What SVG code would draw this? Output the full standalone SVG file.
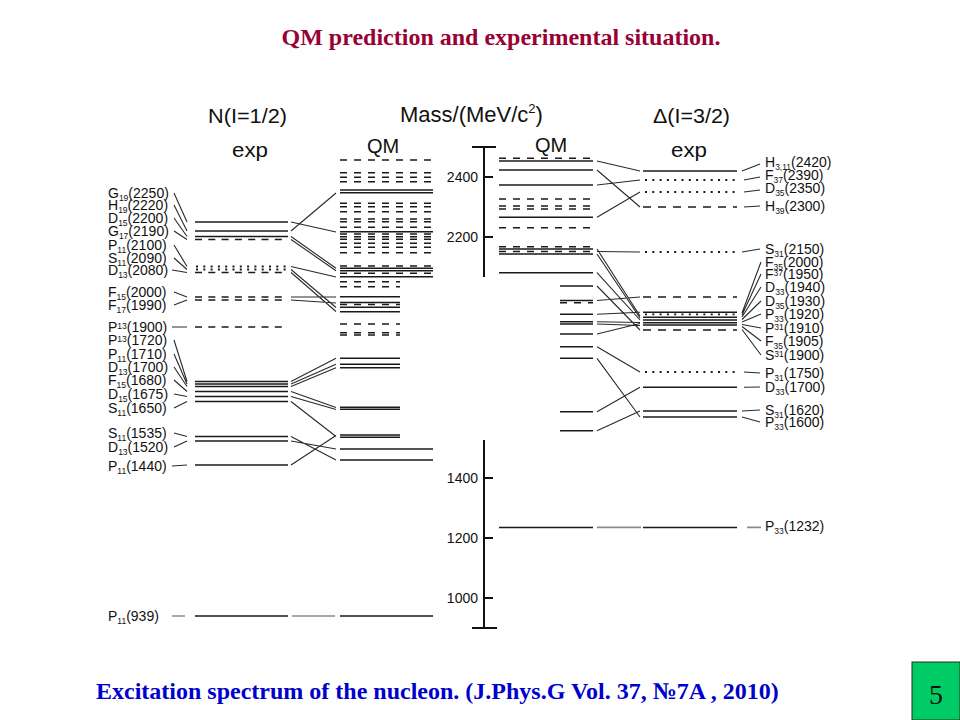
<svg xmlns="http://www.w3.org/2000/svg" width="960" height="720" viewBox="0 0 960 720">
<style>
text{font-family:"Liberation Sans",Arial,sans-serif;fill:#111}
.lb{font-size:14px}
.sb{font-size:8.5px}
.hd{font-size:20px}
.tk{font-size:14px;text-anchor:end}
.ttl{font-family:"Liberation Serif","Times New Roman",serif;font-weight:bold;font-size:24px}
.lv{stroke:#1a1a1a;stroke-width:1.5;fill:none}
.dl{stroke-dasharray:7 6.3}
.dq{stroke-dasharray:7 7}
.dr{stroke-dasharray:8 7}
.ot{stroke-dasharray:2 5.3;stroke-width:1.8}
.cn{stroke:#2a2a2a;stroke-width:1.1;fill:none}
.gr{stroke:#8a8a8a;stroke-width:1.6;fill:none}
.ax{stroke:#111;stroke-width:2;fill:none}
</style>
<rect width="960" height="720" fill="#fff"/>
<text class="ttl" x="501" y="45" text-anchor="middle" style="fill:#990033">QM prediction and experimental situation.</text>

<g id="headers">
<text class="hd" x="208" y="123" textLength="79" lengthAdjust="spacingAndGlyphs">N(I=1/2)</text>
<text class="hd" x="232" y="157" textLength="36" lengthAdjust="spacingAndGlyphs">exp</text>
<text class="hd" x="400" y="122" style="font-size:22px">Mass/(MeV/c<tspan font-size="13" dy="-9">2</tspan><tspan dy="9">)</tspan></text>
<text class="hd" x="383" y="153" text-anchor="middle">QM</text>
<text class="hd" x="551" y="152" text-anchor="middle">QM</text>
<text class="hd" x="653" y="123" textLength="77" lengthAdjust="spacingAndGlyphs">Δ(I=3/2)</text>
<text class="hd" x="671" y="157" textLength="36" lengthAdjust="spacingAndGlyphs">exp</text>
</g>

<g id="axis">
<path class="ax" d="M484 147V277M484 440V628M472 147H496M472 628H497M484 177H493M484 237H493M484 478H493M484 538H493M484 598H493"/>
<text class="tk" x="478" y="182">2400</text>
<text class="tk" x="478" y="242">2200</text>
<text class="tk" x="478" y="483">1400</text>
<text class="tk" x="478" y="543">1200</text>
<text class="tk" x="478" y="603">1000</text>
</g>

<g id="n-exp">
<path class="lv" d="M195 222H288M195 231H288M195 236.5H288M195 381.5H288M195 384H288M195 386.5H288M195 391.5H288M195 396.5H288M195 401.5H288M195 436.5H288M195 441H288M195 465H288M195 616H288"/>
<path class="lv dl" d="M195 239.5H288M195 272.5H288M195 297H288M195 300H288M195 327H288"/>
<path class="lv ot" d="M196 266.5H288M196 269.5H288"/>
</g>

<g id="n-qm">
<path class="lv" d="M340 190H433M340 192.7H433M340 231.7H433M340 268.3H433M340 270.7H433M340 276.7H433M340 449H433M340 460H433M340 616H433M340 296.7H400M340 302.5H400M340 307.3H400M340 311.7H400M340 358.3H400M340 364.3H400M340 367.7H400M340 407.3H400M340 409.3H400M340 435H400M340 437.3H400"/>
<path class="lv dq" d="M340 160H433M340 172.7H433M340 177.3H433M340 181.7H433M340 203.3H433M340 206.7H433M340 211.7H433M340 219H433M340 221.7H433M340 227.3H433M340 234H433M340 236.7H433M340 239.3H433M340 243.3H433M340 247.3H433M340 252.7H433M340 266H433M340 273.3H433M340 281.7H400M340 286.7H400M340 304.5H400M340 324H400M340 332.7H400M340 335H400"/>
</g>

<g id="d-qm">
<path class="lv" d="M499 161H593M499 170H593M499 185H593M499 217.3H593M499 249H593M499 254H593M499 272.7H593M499 527.4H593M560 286H593M560 300.5H593M560 314.3H593M560 321.7H593M560 324H593M560 334H593M560 346.7H593M560 358.3H593M560 411.7H593M560 430.7H593"/>
<path class="lv dq" d="M499 158.3H593M499 199H593M499 206H593M499 209H593M499 227.7H593M499 246.7H593M499 251.5H593M560 302.7H593"/>
</g>

<g id="d-exp">
<path class="lv" d="M643 171H737M643 312.3H737M643 317.3H737M643 320H737M643 322.7H737M643 325H737M643 387.3H737M643 411H737M643 417H737M643 527.4H737"/>
<path class="lv dr" d="M643 207H737M643 297H737M643 330H737"/>
<path class="lv ot" d="M645 180H737M645 192H737M645 252H737M645 314.3H737M645 372H737"/>
</g>

<g id="connectors">
<path class="cn" d="M174 193L187 222M174 205L187 231M174 218L187 236.5M174 231L187 239.5M174 245L187 266.5M174 258L187 269.5M172 270L187 272.5M174 292L187 297M174 305L187 300M172 327L187 327M174 340L187 381.5M174 354L187 384M174 367L187 386.5M174 380L187 391.5M174 394L187 396.5M174 408L187 401.5M174 433L187 436.5M174 447L187 441M172 466L187 465"/>
<path class="cn" d="M291 222L336 232M291 231L336 193M291 236.5L336 268.3M291 239.5L336 270.7M291 266.5L336 277M291 269.5L336 307.5M291 272.5L336 311.5M291 297L336 297M291 300L336 303M291 381.5L336 358.3M291 384L336 364.3M291 386.5L336 367.7M291 391.5L336 407.5M291 396.5L336 409.5M291 401.5L336 436.5M291 436.5L336 460M291 441L336 449M291 465L336 435.5"/>
<path class="cn" d="M597 161L640 171M597 170L640 207M597 185L640 180M597 217.3L640 192M597 251.5L640 252M597 249L640 316M597 254L640 318M597 272.7L640 320M597 286L640 330M597 300.5L640 297M597 314.3L640 312.3M597 321.7L640 322.5M597 324L640 325.5M597 334L640 323.5M597 346.7L640 372M597 358.3L640 417M597 411.7L640 387.3M597 430.7L640 411"/>
<path class="cn" d="M742 171L760 164M744 180L760 177M744 192L760 190M744 207L760 206M742 252L760 249M742 313L761 262M742 315L761 274M742 317L761 287M742 319.5L761 301M742 322L761 314M742 324.5L761 328M742 326.5L761 341M742 329.5L761 355M744 372L760 373M744 387.3L760 387M742 411L760 410M742 417L760 422"/>
<path class="gr" d="M292 616H335M597 527.4H641M172 616H185M747 527.4H761"/>
</g>

<g id="n-labels">
<text class="lb" x="108" y="198">G<tspan class="sb" dy="3">19</tspan><tspan dy="-3">(2250)</tspan></text>
<text class="lb" x="108" y="210">H<tspan class="sb" dy="3">19</tspan><tspan dy="-3">(2220)</tspan></text>
<text class="lb" x="108" y="223">D<tspan class="sb" dy="3">15</tspan><tspan dy="-3">(2200)</tspan></text>
<text class="lb" x="108" y="236">G<tspan class="sb" dy="3">17</tspan><tspan dy="-3">(2190)</tspan></text>
<text class="lb" x="108" y="250">P<tspan class="sb" dy="3">11</tspan><tspan dy="-3">(2100)</tspan></text>
<text class="lb" x="108" y="263">S<tspan class="sb" dy="3">11</tspan><tspan dy="-3">(2090)</tspan></text>
<text class="lb" x="108" y="275">D<tspan class="sb" dy="3">13</tspan><tspan dy="-3">(2080)</tspan></text>
<text class="lb" x="108" y="297">F<tspan class="sb" dy="3">15</tspan><tspan dy="-3">(2000)</tspan></text>
<text class="lb" x="108" y="310">F<tspan class="sb" dy="3">17</tspan><tspan dy="-3">(1990)</tspan></text>
<text class="lb" x="108" y="332">P<tspan class="sb" dy="-3">13</tspan><tspan dy="3">(1900)</tspan></text>
<text class="lb" x="108" y="345">P<tspan class="sb" dy="-3">13</tspan><tspan dy="3">(1720)</tspan></text>
<text class="lb" x="108" y="359">P<tspan class="sb" dy="3">11</tspan><tspan dy="-3">(1710)</tspan></text>
<text class="lb" x="108" y="372">D<tspan class="sb" dy="3">13</tspan><tspan dy="-3">(1700)</tspan></text>
<text class="lb" x="108" y="385">F<tspan class="sb" dy="3">15</tspan><tspan dy="-3">(1680)</tspan></text>
<text class="lb" x="108" y="399">D<tspan class="sb" dy="3">15</tspan><tspan dy="-3">(1675)</tspan></text>
<text class="lb" x="108" y="413">S<tspan class="sb" dy="3">11</tspan><tspan dy="-3">(1650)</tspan></text>
<text class="lb" x="108" y="438">S<tspan class="sb" dy="3">11</tspan><tspan dy="-3">(1535)</tspan></text>
<text class="lb" x="108" y="452">D<tspan class="sb" dy="3">13</tspan><tspan dy="-3">(1520)</tspan></text>
<text class="lb" x="108" y="471">P<tspan class="sb" dy="3">11</tspan><tspan dy="-3">(1440)</tspan></text>
<text class="lb" x="108" y="621">P<tspan class="sb" dy="3">11</tspan><tspan dy="-3">(939)</tspan></text>
</g>

<g id="d-labels">
<text class="lb" x="765" y="167">H<tspan class="sb" dy="3">3,11</tspan><tspan dy="-3">(2420)</tspan></text>
<text class="lb" x="765" y="180">F<tspan class="sb" dy="3">37</tspan><tspan dy="-3">(2390)</tspan></text>
<text class="lb" x="765" y="193">D<tspan class="sb" dy="3">35</tspan><tspan dy="-3">(2350)</tspan></text>
<text class="lb" x="765" y="211">H<tspan class="sb" dy="3">39</tspan><tspan dy="-3">(2300)</tspan></text>
<text class="lb" x="765" y="254">S<tspan class="sb" dy="3">31</tspan><tspan dy="-3">(2150)</tspan></text>
<text class="lb" x="765" y="267">F<tspan class="sb" dy="3">35</tspan><tspan dy="-3">(2000)</tspan></text>
<text class="lb" x="765" y="279">F<tspan class="sb" dy="-3">37</tspan><tspan dy="3">(1950)</tspan></text>
<text class="lb" x="765" y="292">D<tspan class="sb" dy="3">33</tspan><tspan dy="-3">(1940)</tspan></text>
<text class="lb" x="765" y="306">D<tspan class="sb" dy="3">35</tspan><tspan dy="-3">(1930)</tspan></text>
<text class="lb" x="765" y="319">P<tspan class="sb" dy="3">33</tspan><tspan dy="-3">(1920)</tspan></text>
<text class="lb" x="765" y="333">P<tspan class="sb" dy="-3">31</tspan><tspan dy="3">(1910)</tspan></text>
<text class="lb" x="765" y="346">F<tspan class="sb" dy="3">35</tspan><tspan dy="-3">(1905)</tspan></text>
<text class="lb" x="765" y="360">S<tspan class="sb" dy="-3">31</tspan><tspan dy="3">(1900)</tspan></text>
<text class="lb" x="765" y="378">P<tspan class="sb" dy="3">31</tspan><tspan dy="-3">(1750)</tspan></text>
<text class="lb" x="765" y="392">D<tspan class="sb" dy="3">33</tspan><tspan dy="-3">(1700)</tspan></text>
<text class="lb" x="765" y="415">S<tspan class="sb" dy="3">31</tspan><tspan dy="-3">(1620)</tspan></text>
<text class="lb" x="765" y="427">P<tspan class="sb" dy="3">33</tspan><tspan dy="-3">(1600)</tspan></text>
<text class="lb" x="765" y="531">P<tspan class="sb" dy="3">33</tspan><tspan dy="-3">(1232)</tspan></text>
</g>

<text class="ttl" x="96" y="699" style="fill:#0000cc">Excitation spectrum of the nucleon. (J.Phys.G Vol. 37, №7A , 2010)</text>

<g id="page-number">
<rect x="912" y="662" width="48" height="58" fill="#00cc66" stroke="#2b2b2b" stroke-width="1"/>
<text x="936" y="704" text-anchor="middle" style="font-family:'Liberation Serif','Times New Roman',serif;font-size:28px">5</text>
</g>
</svg>
